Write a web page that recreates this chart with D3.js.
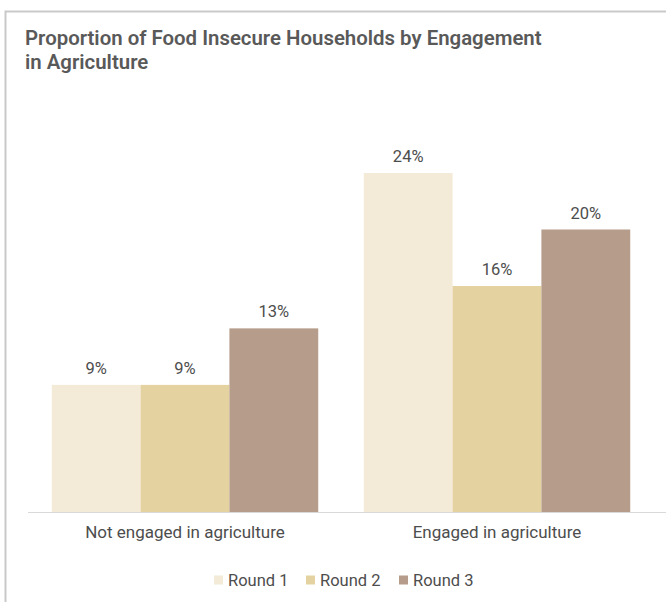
<!DOCTYPE html>
<html>
<head>
<meta charset="utf-8">
<script src="https://cdn.jsdelivr.net/npm/d3@7"></script>
<style>
  body { margin: 0; background: #fff; }
  svg { display: block; font-family: Roboto, "Noto Sans", sans-serif; }
</style>
</head>
<body>
<svg id="drawing_region"></svg>
<script>
const categories = ["Not engaged in agriculture", "Engaged in agriculture"];
const series = ["Round 1", "Round 2", "Round 3"];
const round1 = [9, 24];
const round2 = [9, 16];
const round3 = [13, 20];
const colors = ["#f3ead7", "#e4d3a1", "#b69c8a"];

const data = categories.map((c, i) => ({
    category: c,
    values: [round1[i], round2[i], round3[i]]
}));

const width = 666, height = 602;
const svg = d3.select('#drawing_region')
    .attr('width', width)
    .attr('height', height);

// frame
svg.append('path')
    .attr('d', `M5.5,${height} L5.5,11.5 L${width},11.5`)
    .attr('fill', 'none')
    .attr('stroke', '#c9c9c9')
    .attr('stroke-width', 2);

// title
const title = svg.append('text')
    .attr('x', 25)
    .attr('y', 45)
    .attr('fill', '#595959')
    .attr('font-size', '20.4px')
    .attr('font-weight', 600);
title.append('tspan').attr('x', 25).text('Proportion of Food Insecure Households by Engagement');
title.append('tspan').attr('x', 25).attr('dy', 24).text('in Agriculture');

const baseline = 512;

const x0 = d3.scaleBand()
    .domain(categories)
    .range([29, 653])
    .paddingInner(0.146)
    .paddingOuter(0.073);

const x1 = d3.scaleBand()
    .domain(series)
    .range([0, x0.bandwidth()]);

const yscale = d3.scaleLinear()
    .domain([0, 30])
    .range([baseline, baseline - 30 * 14.125]);

const groups = svg.selectAll('g.group')
    .data(data)
    .join('g')
    .attr('class', 'group')
    .attr('transform', d => `translate(${x0(d.category)},0)`);

groups.selectAll('rect')
    .data(d => d.values.map((v, j) => ({ series: series[j], value: v, j })))
    .join('rect')
    .attr('x', d => x1(d.series))
    .attr('y', d => yscale(d.value))
    .attr('width', x1.bandwidth())
    .attr('height', d => baseline - yscale(d.value))
    .attr('fill', d => colors[d.j]);

groups.selectAll('text.value')
    .data(d => d.values.map((v, j) => ({ series: series[j], value: v })))
    .join('text')
    .attr('class', 'value')
    .attr('x', d => x1(d.series) + x1.bandwidth() / 2)
    .attr('y', d => yscale(d.value) - 11)
    .attr('text-anchor', 'middle')
    .attr('fill', '#4d4d4d')
    .attr('font-size', '16.5px')
    .text(d => d.value + '%');

// x axis
svg.append('line')
    .attr('x1', 28).attr('x2', width)
    .attr('y1', baseline + 0.5).attr('y2', baseline + 0.5)
    .attr('stroke', '#d9d9d9')
    .attr('stroke-width', 1);

const xaxis = d3.axisBottom(x0).tickSize(0).tickPadding(14);
const xaxis_group = svg.append('g')
    .attr('transform', `translate(0,${baseline})`)
    .call(xaxis);
xaxis_group.select('.domain').remove();
xaxis_group.selectAll('text')
    .attr('fill', '#4d4d4d')
    .attr('font-size', '17px')
    .attr('font-family', 'Roboto, sans-serif');

// legend
const legendX = [214, 306, 399];
const legend = svg.selectAll('g.legend')
    .data(series)
    .join('g')
    .attr('class', 'legend')
    .attr('transform', (d, i) => `translate(${legendX[i]},580)`);

legend.append('rect')
    .attr('x', 0).attr('y', -4.5)
    .attr('width', 9).attr('height', 9)
    .attr('fill', (d, i) => colors[i]);

legend.append('text')
    .attr('x', 14)
    .attr('y', 6)
    .attr('fill', '#4d4d4d')
    .attr('font-size', '16.5px')
    .text(d => d);
</script>
</body>
</html>
